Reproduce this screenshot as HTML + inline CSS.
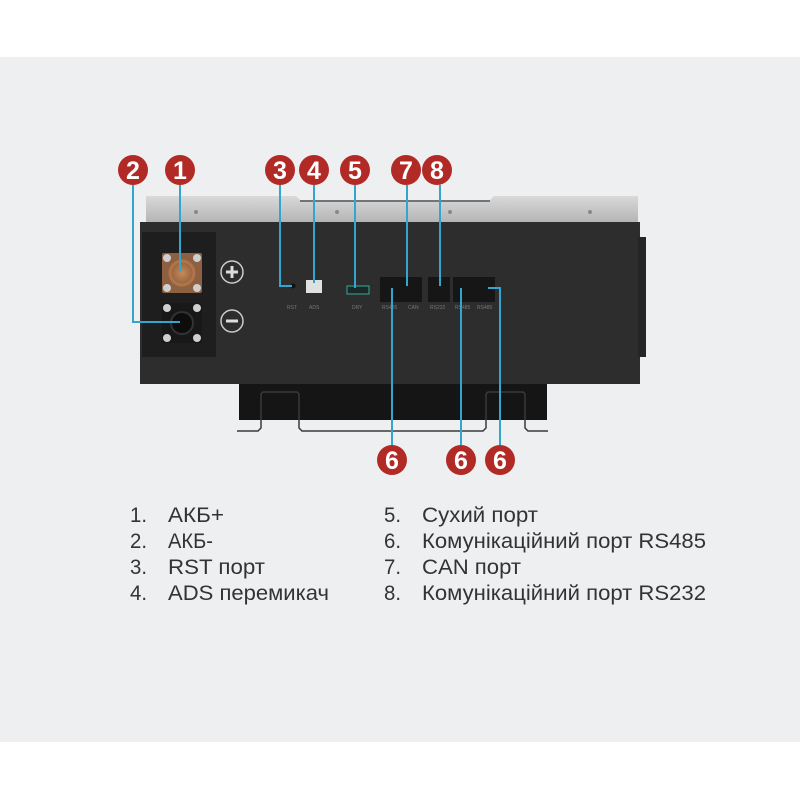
<!DOCTYPE html>
<html><head><meta charset="utf-8"><style>
html,body{margin:0;padding:0;background:#fff;}
svg{display:block}
</style></head><body>
<svg width="800" height="800" viewBox="0 0 800 800" xmlns="http://www.w3.org/2000/svg" font-family="Liberation Sans, sans-serif">
<defs>
<linearGradient id="top" x1="0" y1="0" x2="0" y2="1"><stop offset="0" stop-color="#d9d9d9"/><stop offset="1" stop-color="#b5b5b5"/></linearGradient>
<radialGradient id="cu" cx="0.5" cy="0.5" r="0.6"><stop offset="0" stop-color="#c58a5a"/><stop offset="1" stop-color="#8a5a35"/></radialGradient>
</defs>
<rect x="0" y="57" width="800" height="685" fill="#eeeff0"/>
<path d="M146 196 L296 196 L300 200 L490 200 L494 196 L638 196 L638 222 L146 222 Z" fill="url(#top)"/>
<line x1="300" y1="201" x2="490" y2="201" stroke="#555" stroke-width="1.5"/>
<circle cx="196" cy="212" r="2" fill="#888"/><circle cx="337" cy="212" r="2" fill="#888"/><circle cx="450" cy="212" r="2" fill="#888"/><circle cx="590" cy="212" r="2" fill="#888"/>
<rect x="140" y="222" width="500" height="162" fill="#2d2d2d"/>
<rect x="638" y="237" width="8" height="120" fill="#252525"/>
<rect x="142" y="232" width="74" height="125" fill="#1e1e1e"/>
<rect x="239" y="384" width="308" height="36" fill="#151515"/>
<polyline points="237,431 258,431 261,428 261,394 263,392 297,392 299,394 299,428 302,431 483,431 486,428 486,394 488,392 523,392 525,394 525,428 528,431 548,431" fill="none" stroke="#3a3a3a" stroke-width="1.5"/>
<rect x="162" y="253" width="40" height="40" fill="#8c6040" rx="2"/>
<circle cx="182" cy="273" r="12" fill="url(#cu)" stroke="#b07448" stroke-width="3"/>
<g fill="#cfcfcf"><circle cx="167" cy="258" r="4"/><circle cx="197" cy="258" r="4"/><circle cx="167" cy="288" r="4"/><circle cx="197" cy="288" r="4"/></g>
<rect x="162" y="303" width="40" height="40" fill="#111" rx="2" opacity="0.5"/>
<circle cx="182" cy="323" r="11" fill="#0d0d0d" stroke="#333" stroke-width="2"/>
<g fill="#cfcfcf"><circle cx="167" cy="308" r="4"/><circle cx="197" cy="308" r="4"/><circle cx="167" cy="338" r="4"/><circle cx="197" cy="338" r="4"/></g>
<circle cx="232" cy="272" r="11" fill="none" stroke="#ccc" stroke-width="1.5"/>
<path d="M226 272 H238 M232 266 V278" stroke="#ddd" stroke-width="3"/>
<circle cx="232" cy="321" r="11" fill="none" stroke="#ccc" stroke-width="1.5"/>
<path d="M226 321 H238" stroke="#ddd" stroke-width="3"/>
<circle cx="293" cy="286" r="2.5" fill="#111"/>
<rect x="306" y="280" width="16" height="13" fill="#e0e0e0"/>
<rect x="347" y="286" width="22" height="8" fill="#1a2a2a" stroke="#3aa89a" stroke-width="1"/>
<rect x="380" y="277" width="42" height="25" fill="#161616"/>
<rect x="428" y="277" width="22" height="25" fill="#161616"/>
<rect x="453" y="277" width="42" height="25" fill="#161616"/>
<g fill="#777" font-size="5"><text x="287" y="309">RST</text><text x="309" y="309">ADS</text><text x="352" y="309">DRY</text><text x="382" y="309">RS485</text><text x="408" y="309">CAN</text><text x="430" y="309">RS232</text><text x="455" y="309">RS485</text><text x="477" y="309">RS485</text></g>
<g fill="none" stroke="#33a6cf" stroke-width="2">
<path d="M180 185 V272"/><path d="M133 185 V322 H180"/>
<path d="M280 185 V286 H292"/><path d="M314 185 V283"/><path d="M355 185 V288"/>
<path d="M407 185 V286"/><path d="M440 185 V286"/>
<path d="M392 445 V288"/><path d="M461 445 V288"/><path d="M500 445 V288 H488"/>
</g>
<g fill="#b22a26"><circle cx="133" cy="170" r="15"/><circle cx="180" cy="170" r="15"/><circle cx="280" cy="170" r="15"/><circle cx="314" cy="170" r="15"/><circle cx="355" cy="170" r="15"/><circle cx="406" cy="170" r="15"/><circle cx="437" cy="170" r="15"/>
<circle cx="392" cy="460" r="15"/><circle cx="461" cy="460" r="15"/><circle cx="500" cy="460" r="15"/></g>
<g fill="#fff" font-size="25" font-weight="bold" text-anchor="middle">
<text x="133" y="179">2</text><text x="180" y="179">1</text><text x="280" y="179">3</text><text x="314" y="179">4</text><text x="355" y="179">5</text><text x="406" y="179">7</text><text x="437" y="179">8</text>
<text x="392" y="469">6</text><text x="461" y="469">6</text><text x="500" y="469">6</text></g>
<g fill="#333" font-size="21">
<text x="130" y="522" textLength="17" lengthAdjust="spacingAndGlyphs">1.</text><text x="168" y="522" textLength="56" lengthAdjust="spacingAndGlyphs">АКБ+</text>
<text x="130" y="548" textLength="17" lengthAdjust="spacingAndGlyphs">2.</text><text x="168" y="548" textLength="45" lengthAdjust="spacingAndGlyphs">АКБ-</text>
<text x="130" y="574" textLength="17" lengthAdjust="spacingAndGlyphs">3.</text><text x="168" y="574" textLength="97" lengthAdjust="spacingAndGlyphs">RST порт</text>
<text x="130" y="600" textLength="17" lengthAdjust="spacingAndGlyphs">4.</text><text x="168" y="600" textLength="161" lengthAdjust="spacingAndGlyphs">ADS перемикач</text>
<text x="384" y="522" textLength="17" lengthAdjust="spacingAndGlyphs">5.</text><text x="422" y="522" textLength="116" lengthAdjust="spacingAndGlyphs">Сухий порт</text>
<text x="384" y="548" textLength="17" lengthAdjust="spacingAndGlyphs">6.</text><text x="422" y="548" textLength="284" lengthAdjust="spacingAndGlyphs">Комунікаційний порт RS485</text>
<text x="384" y="574" textLength="17" lengthAdjust="spacingAndGlyphs">7.</text><text x="422" y="574" textLength="99" lengthAdjust="spacingAndGlyphs">CAN порт</text>
<text x="384" y="600" textLength="17" lengthAdjust="spacingAndGlyphs">8.</text><text x="422" y="600" textLength="284" lengthAdjust="spacingAndGlyphs">Комунікаційний порт RS232</text>
</g>
</svg>
</body></html>
